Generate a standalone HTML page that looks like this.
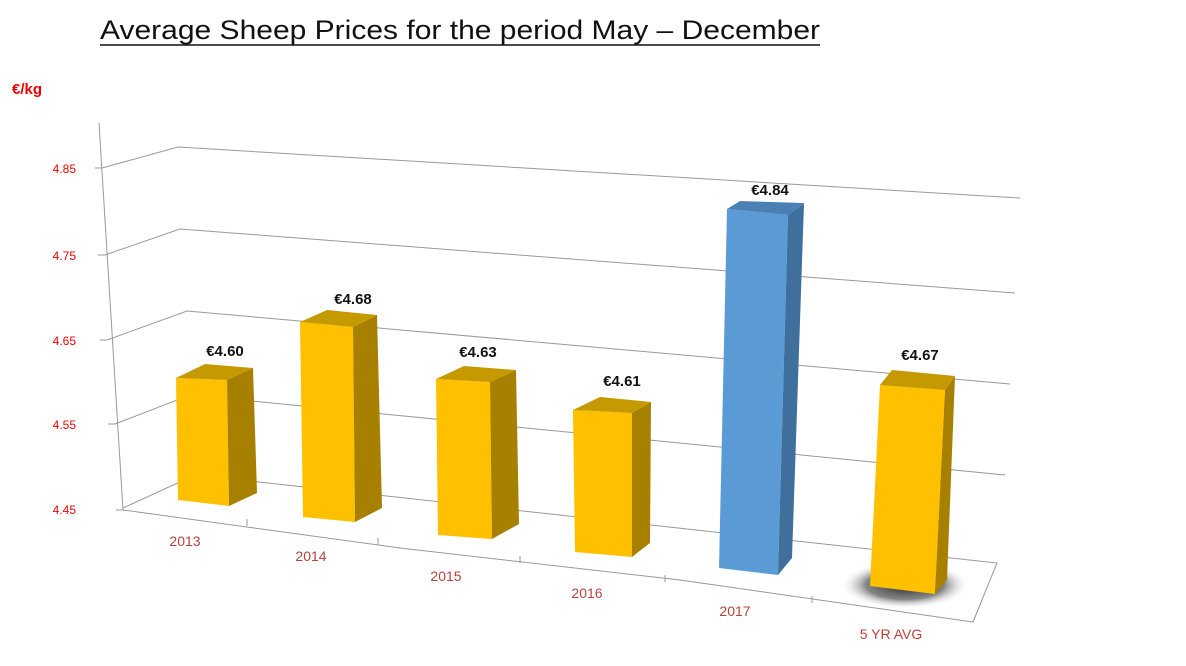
<!DOCTYPE html>
<html><head><meta charset="utf-8"><style>
body{margin:0;background:#fff;}
svg{display:block;font-family:"Liberation Sans",sans-serif;}
</style></head><body>
<svg width="1186" height="666" viewBox="0 0 1186 666" xmlns="http://www.w3.org/2000/svg">
<defs>
<radialGradient id="sh" cx="0.5" cy="0.5" r="0.5">
<stop offset="0" stop-color="#000" stop-opacity="0.85"/>
<stop offset="0.6" stop-color="#333" stop-opacity="0.6"/>
<stop offset="1" stop-color="#fff" stop-opacity="0"/>
</radialGradient>
</defs>
<text x="100" y="39" font-size="27" fill="#111" textLength="720" lengthAdjust="spacingAndGlyphs">Average Sheep Prices for the period May – December</text>
<line x1="100" y1="45" x2="820" y2="45" stroke="#111" stroke-width="1.5"/>
<text x="12" y="94" font-size="15" font-weight="bold" fill="#e00">€/kg</text>
<g stroke="#999" stroke-width="1" fill="none">
<line x1="99" y1="123" x2="123" y2="510"/>
<polyline points="102,168 178,147 1020,198"/>
<polyline points="105,255 180,229 1015,293"/>
<polyline points="107,340 187,311 1010,384"/>
<polyline points="115,424 190,395 1005,475"/>
<polyline points="123,508 195,475 997,563 973,622"/>
<polyline points="123,510 400,548 680,580 973,622"/>
<line x1="95" y1="168" x2="102" y2="168"/>
<line x1="98" y1="255" x2="105" y2="255"/>
<line x1="100" y1="340" x2="107" y2="340"/>
<line x1="108" y1="424" x2="115" y2="424"/>
<line x1="116" y1="510" x2="123" y2="510"/>
<line x1="247" y1="519" x2="247" y2="526"/>
<line x1="378" y1="538" x2="378" y2="545"/>
<line x1="520" y1="556" x2="520" y2="563"/>
<line x1="665" y1="575" x2="665" y2="582"/>
<line x1="812" y1="596" x2="812" y2="603"/>
</g>
<g font-size="12" fill="#e00" text-anchor="end">
<text x="76" y="173">4.85</text>
<text x="76" y="260">4.75</text>
<text x="76" y="345">4.65</text>
<text x="76" y="429">4.55</text>
<text x="76" y="514">4.45</text>
</g>
<ellipse cx="905" cy="585" rx="65" ry="24" fill="url(#sh)"/>
<g>
<polygon points="176,378 227,380 229,506 178,500" fill="#ffc000"/>
<polygon points="227,380 253,368 257,493 229,506" fill="#a88000"/>
<polygon points="176,378 205,364 253,368 227,380" fill="#c49a00"/>

<polygon points="300,322 353,327 355,522 303,517" fill="#ffc000"/>
<polygon points="353,327 377,315 382,508 355,522" fill="#a88000"/>
<polygon points="300,322 327,310 377,315 353,327" fill="#c49a00"/>

<polygon points="436,379 490,382 492,539 438,535" fill="#ffc000"/>
<polygon points="490,382 516,370 519,524 492,539" fill="#a88000"/>
<polygon points="436,379 464,366 516,370 490,382" fill="#c49a00"/>

<polygon points="573,410 632,413 632,557 575,552" fill="#ffc000"/>
<polygon points="632,413 651,402 650,543 632,557" fill="#a88000"/>
<polygon points="573,410 600,397 651,402 632,413" fill="#c49a00"/>

<polygon points="727,209 788,215 778,575 719,568" fill="#5b9bd5"/>
<polygon points="788,215 804,203 792,558 778,575" fill="#3f6f9c"/>
<polygon points="727,209 740,201 804,203 788,215" fill="#4a80b4"/>

<polygon points="880,385 945,390 935,594 870,586" fill="#ffc000"/>
<polygon points="945,390 955,376 947,580 935,594" fill="#a88000"/>
<polygon points="880,385 892,370 955,376 945,390" fill="#c49a00"/>
</g>
<g font-size="15" font-weight="bold" fill="#111" text-anchor="middle">
<text x="225" y="356">€4.60</text>
<text x="353" y="304">€4.68</text>
<text x="478" y="357">€4.63</text>
<text x="622" y="386">€4.61</text>
<text x="770" y="195">€4.84</text>
<text x="920" y="360">€4.67</text>
</g>
<g font-size="14" fill="#b8423a" text-anchor="middle">
<text x="185" y="546">2013</text>
<text x="311" y="561">2014</text>
<text x="446" y="581">2015</text>
<text x="587" y="598">2016</text>
<text x="735" y="616">2017</text>
<text x="891" y="639">5 YR AVG</text>
</g>
</svg>
</body></html>
